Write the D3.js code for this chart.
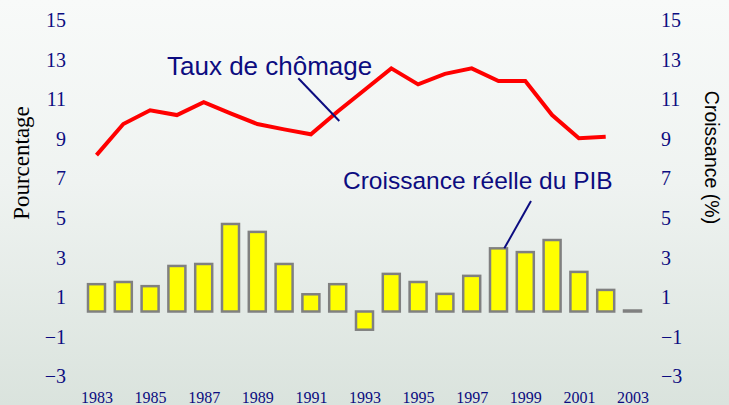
<!DOCTYPE html>
<html>
<head>
<meta charset="utf-8">
<script src="https://cdn.jsdelivr.net/npm/d3@7"></script>
<style>
  html, body { margin: 0; padding: 0; }
  svg { display: block; }
</style>
</head>
<body>
<div id="chart"></div>
<script>
// Chômage et croissance, 1983-2003
const years = d3.range(1983, 2004);
const yearLabels = ['1983', '1985', '1987', '1989', '1991', '1993', '1995', '1997', '1999', '2001', '2003'];
const unemployment = [7.9, 9.47, 10.16, 9.92, 10.57, 10.01, 9.47, 9.2, 8.95, 10.1, 11.19,
  12.28, 11.47, 12.0, 12.28, 11.64, 11.64, 9.92, 8.75, 8.83];
const gdpGrowth = [1.38, 1.49, 1.28, 2.3, 2.4, 4.42, 4.02, 2.4, 0.87, 1.38, -0.92,
  1.9, 1.49, 0.89, 1.8, 3.19, 3.0, 3.61, 2.0, 1.09, 0.05];
const axisTicks = [15, 13, 11, 9, 7, 5, 3, 1, -1, -3];

const W = 729, H = 405;
const navy = '#0c0c80';
const SERIF = "'Liberation Serif'";
const SANS = "'Liberation Sans'";

const svg = d3.select('#chart').append('svg')
  .attr('width', W)
  .attr('height', H);

// background gradient
const grad = svg.append('defs').append('linearGradient')
  .attr('id', 'bg').attr('x1', 0).attr('y1', 0).attr('x2', 0).attr('y2', 1);
grad.append('stop').attr('offset', '0%').attr('stop-color', '#f8faf9');
grad.append('stop').attr('offset', '45%').attr('stop-color', '#eff3f1');
grad.append('stop').attr('offset', '100%').attr('stop-color', '#dae3dd');
svg.append('rect').attr('width', W).attr('height', H).attr('fill', 'url(#bg)');

const x = d3.scaleLinear().domain([1983, 2003]).range([96.5, 632.5]);
const y = d3.scaleLinear().domain([-3, 15]).range([370.9, 14.5]);
const barW = 17;

// bars (croissance)
svg.append('g').selectAll('rect')
  .data(years.map((yr, i) => ({ yr, v: gdpGrowth[i] })))
  .join('rect')
  .attr('x', d => x(d.yr) - barW / 2)
  .attr('y', d => Math.min(y(d.v), y(0)))
  .attr('width', barW)
  .attr('height', d => Math.abs(y(d.v) - y(0)))
  .attr('fill', '#ffff00')
  .attr('stroke', '#808080')
  .attr('stroke-width', 2.5);

// unemployment line
const line = d3.line()
  .x((d, i) => x(years[i]))
  .y(d => y(d));

svg.append('path')
  .datum(unemployment)
  .attr('fill', 'none')
  .attr('stroke', '#ff0000')
  .attr('stroke-width', 4)
  .attr('d', line);

// axes: labels only, no lines
function styleAxis(g, size) {
  g.select('.domain').remove();
  g.selectAll('text')
    .attr('fill', navy)
    .style('font-family', SERIF)
    .style('font-size', size + 'px');
}

svg.append('g')
  .attr('transform', 'translate(66,5.6)')
  .call(d3.axisLeft(y).tickValues(axisTicks).tickSize(0).tickPadding(0))
  .call(g => styleAxis(g, 20));

svg.append('g')
  .attr('transform', 'translate(661,5.6)')
  .call(d3.axisRight(y).tickValues(axisTicks).tickSize(0).tickPadding(0))
  .call(g => styleAxis(g, 20));

svg.append('g')
  .attr('transform', 'translate(0,391.6)')
  .call(d3.axisBottom(x).tickValues(yearLabels.map(Number)).tickFormat(d3.format('d')).tickSize(0).tickPadding(0))
  .call(g => styleAxis(g, 16));

// axis titles
svg.append('text')
  .attr('transform', 'translate(29,163) rotate(-90)')
  .attr('text-anchor', 'middle')
  .style('font-family', SERIF)
  .style('font-size', '23px')
  .attr('fill', '#000')
  .text('Pourcentage');

svg.append('text')
  .attr('transform', 'translate(704.5,157.5) rotate(90)')
  .attr('text-anchor', 'middle')
  .style('font-family', SANS)
  .style('font-size', '19.5px')
  .attr('fill', '#000')
  .text('Croissance (%)');

// series annotations
svg.append('text')
  .attr('x', 167).attr('y', 75)
  .style('font-family', SANS)
  .style('font-size', '26px')
  .attr('fill', navy)
  .text('Taux de chômage');

svg.append('line')
  .attr('x1', 298.3).attr('y1', 78.3)
  .attr('x2', 339.3).attr('y2', 121)
  .attr('stroke', navy).attr('stroke-width', 2);

svg.append('text')
  .attr('x', 343).attr('y', 189)
  .style('font-family', SANS)
  .style('font-size', '24.5px')
  .attr('fill', navy)
  .text('Croissance réelle du PIB');

svg.append('line')
  .attr('x1', 531).attr('y1', 201)
  .attr('x2', 504.3).attr('y2', 248.3)
  .attr('stroke', navy).attr('stroke-width', 2);
</script>
</body>
</html>
